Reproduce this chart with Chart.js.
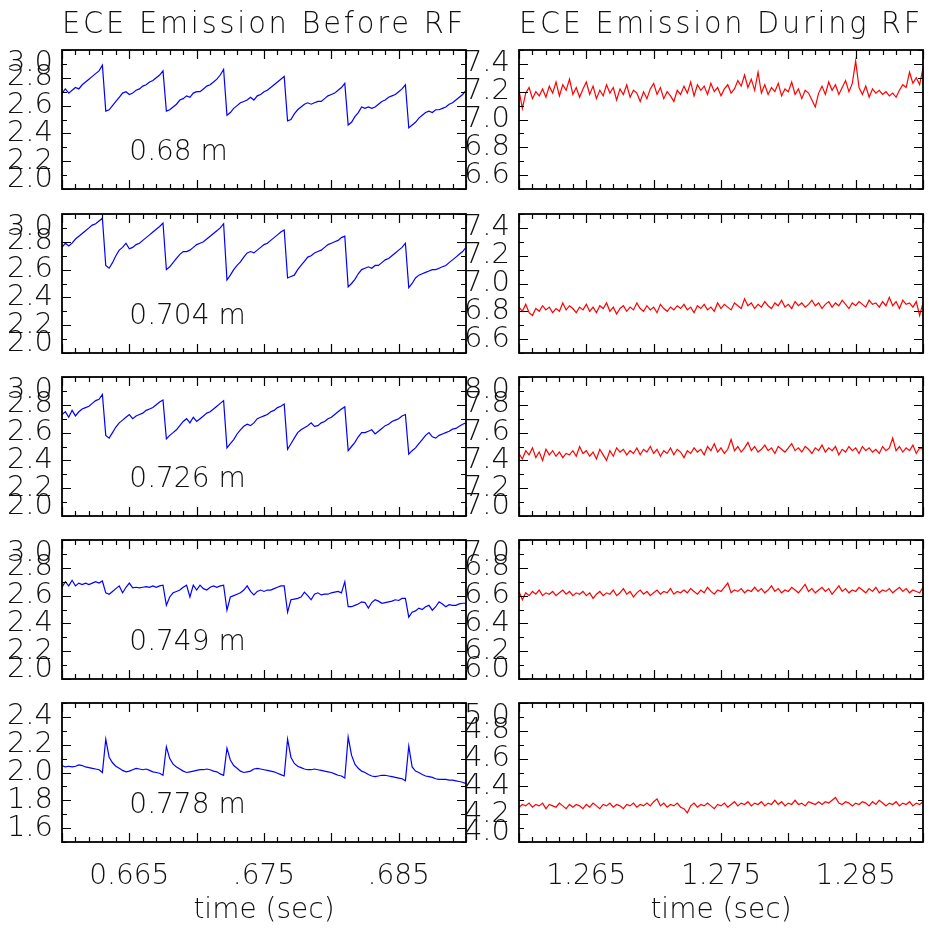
<!DOCTYPE html>
<html>
<head>
<meta charset="utf-8">
<script src="https://cdn.jsdelivr.net/npm/chart.js@4.4.1/dist/chart.umd.min.js"></script>
<style>
  html, body { margin: 0; padding: 0; background: #fff; }
  #wrap { position: relative; width: 931px; height: 928px; overflow: hidden; }
  #wrap canvas { position: absolute; }
</style>
</head>
<body>
<div id="wrap"></div>
<script>
// ---- data ----
const sampleStep = 0.00025;          // s between samples
const tStartBefore = 0.66;
const tStartDuring = 1.26;
const radii = ['0.68 m', '0.704 m', '0.726 m', '0.749 m', '0.778 m'];

// before RF (blue), 121 samples from 0.660 to 0.690 s
const before068 = [2.69,2.72,2.69,2.71,2.73,2.72,2.75,2.77,2.79,2.81,2.83,2.85,2.89,
  2.56,2.57,2.60,2.63,2.66,2.69,2.70,2.68,2.69,2.71,2.72,2.74,2.75,2.77,2.78,2.80,2.82,2.85,
  2.56,2.57,2.59,2.61,2.64,2.65,2.67,2.66,2.69,2.70,2.70,2.72,2.74,2.75,2.77,2.79,2.82,2.86,
  2.53,2.55,2.58,2.60,2.62,2.63,2.64,2.66,2.64,2.67,2.68,2.70,2.71,2.73,2.75,2.77,2.79,2.81,
  2.49,2.50,2.54,2.57,2.59,2.61,2.62,2.61,2.62,2.63,2.63,2.65,2.67,2.68,2.69,2.71,2.73,2.76,
  2.46,2.48,2.52,2.55,2.59,2.58,2.59,2.58,2.59,2.61,2.63,2.64,2.66,2.67,2.68,2.70,2.72,2.75,
  2.44,2.46,2.48,2.51,2.53,2.55,2.56,2.55,2.57,2.57,2.58,2.59,2.61,2.62,2.64,2.66,2.68,2.71];
const before0704 = [2.76,2.79,2.77,2.79,2.82,2.84,2.86,2.88,2.90,2.92,2.93,2.95,2.97,
  2.63,2.61,2.65,2.70,2.74,2.76,2.79,2.75,2.76,2.78,2.79,2.81,2.83,2.85,2.87,2.89,2.91,2.935,
  2.60,2.62,2.65,2.68,2.71,2.73,2.73,2.74,2.76,2.78,2.79,2.80,2.82,2.84,2.86,2.88,2.90,2.93,
  2.525,2.56,2.60,2.63,2.655,2.69,2.72,2.73,2.72,2.74,2.76,2.78,2.79,2.81,2.83,2.85,2.87,2.885,
  2.54,2.55,2.56,2.60,2.63,2.66,2.69,2.70,2.72,2.73,2.74,2.76,2.78,2.79,2.80,2.81,2.83,2.84,
  2.475,2.50,2.53,2.57,2.60,2.61,2.62,2.61,2.63,2.63,2.65,2.67,2.68,2.70,2.72,2.74,2.76,2.79,
  2.47,2.50,2.54,2.56,2.57,2.58,2.59,2.60,2.60,2.61,2.62,2.63,2.65,2.67,2.69,2.71,2.73,2.76];
const before0726 = [2.73,2.75,2.71,2.76,2.72,2.75,2.77,2.78,2.79,2.81,2.83,2.84,2.875,
  2.58,2.56,2.60,2.64,2.67,2.69,2.71,2.73,2.70,2.72,2.73,2.74,2.76,2.77,2.78,2.80,2.82,2.835,
  2.555,2.58,2.60,2.62,2.65,2.68,2.70,2.67,2.71,2.68,2.70,2.72,2.74,2.75,2.77,2.79,2.81,2.83,
  2.49,2.52,2.55,2.59,2.62,2.645,2.66,2.65,2.67,2.70,2.71,2.72,2.73,2.75,2.76,2.78,2.79,2.805,
  2.48,2.52,2.56,2.60,2.62,2.635,2.65,2.67,2.645,2.65,2.67,2.68,2.70,2.71,2.73,2.75,2.77,2.785,
  2.47,2.50,2.53,2.57,2.60,2.60,2.61,2.62,2.59,2.61,2.63,2.65,2.66,2.68,2.69,2.70,2.72,2.73,
  2.445,2.47,2.49,2.52,2.55,2.58,2.60,2.57,2.56,2.58,2.59,2.60,2.61,2.625,2.63,2.645,2.66,2.67];
const before0749 = [2.66,2.70,2.67,2.71,2.67,2.69,2.68,2.69,2.68,2.69,2.70,2.69,2.705,
  2.62,2.61,2.63,2.65,2.67,2.62,2.66,2.69,2.655,2.66,2.655,2.66,2.665,2.66,2.67,2.66,2.67,2.675,
  2.53,2.59,2.62,2.63,2.64,2.66,2.675,2.59,2.675,2.64,2.675,2.65,2.64,2.66,2.67,2.66,2.67,2.675,
  2.495,2.59,2.60,2.61,2.62,2.64,2.67,2.63,2.605,2.63,2.64,2.63,2.64,2.64,2.65,2.66,2.67,2.67,
  2.48,2.57,2.575,2.58,2.59,2.625,2.60,2.57,2.61,2.62,2.605,2.61,2.61,2.62,2.625,2.63,2.62,2.70,
  2.52,2.52,2.53,2.54,2.555,2.55,2.51,2.55,2.57,2.56,2.545,2.55,2.555,2.56,2.57,2.565,2.58,2.58,
  2.445,2.48,2.49,2.51,2.50,2.52,2.53,2.495,2.52,2.555,2.54,2.52,2.535,2.53,2.53,2.54,2.545,2.545];
const before0778 = [2.05,2.04,2.045,2.04,2.045,2.055,2.05,2.04,2.035,2.03,2.025,2.02,2.00,
  2.24,2.11,2.07,2.045,2.03,2.015,2.005,2.01,2.02,2.03,2.025,2.02,2.025,2.015,2.005,2.00,1.995,1.98,
  2.185,2.10,2.06,2.04,2.025,2.01,2.00,2.005,2.01,2.015,2.02,2.02,2.025,2.02,2.01,2.005,1.99,1.98,
  2.175,2.09,2.05,2.03,2.01,2.00,2.005,2.01,2.025,2.03,2.025,2.02,2.015,2.01,2.005,1.995,1.985,1.975,
  2.24,2.11,2.065,2.045,2.035,2.025,2.02,2.02,2.025,2.02,2.015,2.01,2.005,2.00,1.99,1.98,1.975,1.96,
  2.255,2.125,2.06,2.03,2.01,2.00,1.985,1.975,1.97,1.975,1.98,1.98,1.975,1.97,1.965,1.96,1.955,1.94,
  2.19,2.04,2.01,2.00,1.985,1.975,1.97,1.965,1.955,1.95,1.95,1.95,1.945,1.945,1.94,1.935,1.93,1.92];

// during RF (red), 121 samples from 1.260 to 1.290 s
const during068 = [7.21,7.08,7.19,7.23,7.15,7.20,7.17,7.22,7.16,7.24,
  7.19,7.27,7.17,7.25,7.21,7.29,7.18,7.23,7.16,7.22,
  7.27,7.18,7.24,7.15,7.21,7.17,7.25,7.19,7.23,7.14,
  7.22,7.18,7.25,7.16,7.21,7.19,7.13,7.20,7.15,7.22,
  7.26,7.18,7.23,7.15,7.20,7.17,7.13,7.21,7.18,7.24,
  7.19,7.27,7.17,7.25,7.21,7.24,7.18,7.26,7.20,7.23,
  7.17,7.22,7.25,7.19,7.22,7.28,7.24,7.32,7.23,7.29,
  7.21,7.34,7.19,7.25,7.18,7.23,7.20,7.26,7.17,7.22,
  7.20,7.27,7.18,7.22,7.15,7.21,7.19,7.14,7.09,7.19,
  7.24,7.18,7.27,7.21,7.25,7.18,7.23,7.28,7.20,7.26,
  7.42,7.23,7.18,7.24,7.16,7.22,7.19,7.21,7.18,7.20,
  7.17,7.19,7.16,7.21,7.25,7.23,7.34,7.26,7.30,7.25,7.37];
const during0704 = [6.83,6.80,6.85,6.79,6.77,6.82,6.80,6.84,6.81,6.83,
  6.79,6.82,6.80,6.86,6.81,6.84,6.82,6.79,6.83,6.81,
  6.85,6.80,6.83,6.79,6.84,6.82,6.86,6.80,6.83,6.78,
  6.82,6.84,6.80,6.83,6.81,6.86,6.82,6.80,6.84,6.81,
  6.83,6.79,6.85,6.82,6.80,6.83,6.81,6.84,6.82,6.85,
  6.81,6.83,6.79,6.84,6.82,6.85,6.81,6.83,6.80,6.86,
  6.82,6.85,6.83,6.81,6.86,6.84,6.82,6.89,6.84,6.86,
  6.82,6.85,6.83,6.87,6.84,6.82,6.86,6.84,6.88,6.83,
  6.85,6.82,6.87,6.84,6.86,6.83,6.85,6.88,6.84,6.86,
  6.82,6.85,6.87,6.83,6.86,6.84,6.88,6.85,6.82,6.86,
  6.84,6.87,6.85,6.83,6.88,6.85,6.86,6.83,6.87,6.84,
  6.90,6.84,6.87,6.82,6.88,6.85,6.86,6.83,6.87,6.77,6.86];
const during0726 = [7.45,7.41,7.47,7.44,7.49,7.42,7.46,7.40,7.48,7.44,
  7.47,7.43,7.46,7.42,7.45,7.44,7.47,7.43,7.50,7.45,
  7.47,7.43,7.46,7.41,7.48,7.44,7.40,7.47,7.43,7.49,
  7.46,7.48,7.44,7.47,7.45,7.49,7.44,7.48,7.46,7.50,
  7.45,7.48,7.43,7.47,7.45,7.49,7.44,7.48,7.46,7.42,
  7.47,7.45,7.49,7.46,7.48,7.44,7.50,7.47,7.52,7.46,
  7.49,7.45,7.48,7.55,7.47,7.50,7.46,7.49,7.53,7.47,
  7.50,7.46,7.48,7.51,7.47,7.49,7.45,7.50,7.48,7.46,
  7.49,7.52,7.47,7.49,7.46,7.50,7.48,7.45,7.49,7.47,
  7.51,7.46,7.49,7.47,7.50,7.44,7.48,7.46,7.50,7.47,
  7.49,7.45,7.50,7.47,7.49,7.46,7.48,7.45,7.50,7.47,
  7.49,7.56,7.47,7.50,7.46,7.49,7.47,7.51,7.45,7.49,7.48];
const during0749 = [6.63,6.57,6.62,6.60,6.63,6.61,6.64,6.60,6.62,6.61,
  6.63,6.60,6.62,6.64,6.61,6.63,6.60,6.62,6.61,6.63,
  6.60,6.62,6.58,6.61,6.63,6.60,6.62,6.61,6.64,6.60,
  6.62,6.65,6.61,6.63,6.59,6.62,6.64,6.61,6.63,6.60,
  6.62,6.64,6.61,6.63,6.62,6.65,6.61,6.63,6.62,6.64,
  6.62,6.65,6.63,6.61,6.64,6.62,6.66,6.63,6.61,6.64,
  6.63,6.66,6.69,6.62,6.64,6.63,6.65,6.62,6.64,6.63,
  6.66,6.63,6.65,6.62,6.64,6.67,6.63,6.65,6.62,6.64,
  6.63,6.66,6.64,6.62,6.65,6.68,6.63,6.65,6.62,6.64,
  6.66,6.63,6.65,6.61,6.64,6.67,6.63,6.65,6.62,6.64,
  6.63,6.66,6.64,6.62,6.65,6.63,6.66,6.62,6.64,6.63,
  6.65,6.62,6.64,6.66,6.63,6.65,6.62,6.64,6.63,6.62,6.66];
const during0778 = [4.25,4.27,4.26,4.28,4.25,4.27,4.26,4.28,4.24,4.27,
  4.26,4.25,4.28,4.26,4.24,4.27,4.25,4.27,4.26,4.24,
  4.27,4.25,4.28,4.26,4.24,4.27,4.26,4.28,4.25,4.27,
  4.26,4.24,4.27,4.26,4.28,4.25,4.27,4.26,4.28,4.26,
  4.29,4.31,4.26,4.28,4.25,4.27,4.26,4.28,4.25,4.24,
  4.21,4.26,4.28,4.25,4.27,4.26,4.28,4.26,4.24,4.27,
  4.26,4.28,4.25,4.27,4.29,4.26,4.28,4.27,4.29,4.26,
  4.28,4.27,4.29,4.26,4.28,4.27,4.30,4.27,4.29,4.26,
  4.28,4.27,4.30,4.27,4.28,4.26,4.29,4.28,4.27,4.29,
  4.27,4.29,4.28,4.30,4.32,4.28,4.27,4.29,4.28,4.26,
  4.28,4.27,4.29,4.28,4.26,4.29,4.27,4.30,4.28,4.26,
  4.28,4.27,4.29,4.26,4.28,4.27,4.29,4.26,4.28,4.27,4.29];

const beforeSeries = [before068, before0704, before0726, before0749, before0778];
const duringSeries = [during068, during0704, during0726, during0749, during0778];

// axis ranges and tick labels
const yMinBefore = [2.0, 2.0, 2.0, 2.0, 1.5];
const yMaxBefore = [3.0, 3.0, 3.0, 3.0, 2.5];
const yMinDuring = [6.5, 6.5, 7.0, 6.0, 4.0];
const yMaxDuring = [7.5, 7.5, 8.0, 7.0, 5.0];
const xTickValsBefore = [0.665, 0.675, 0.685];
const xTickLabelsBefore = ['0.665', '.675', '.685'];
const xTickValsDuring = [1.265, 1.275, 1.285];
const xTickLabelsDuring = ['1.265', '1.275', '1.285'];
const titles = ['ECE Emission Before RF', 'ECE Emission During RF'];

// ---- layout ----
const FONT = 'DejaVu Sans';
const panelTops = [50, 214, 377, 540, 703];
const panelH = 139;

// IDL-style frame: inward ticks on all four sides, labels kept inside the box height
const idlFrame = {
  id: 'idlFrame',
  beforeDraw(chart, args, o) {
    chart.ctx.letterSpacing = o.titleRow ? '3px' : '0px';
  },
  afterDraw(chart, args, o) {
    const ctx = chart.ctx, a = chart.chartArea;
    const xs = chart.scales.x, ys = chart.scales.y;
    ctx.save();
    ctx.letterSpacing = '0px';
    ctx.strokeStyle = '#000';
    ctx.lineWidth = 1.2;
    ctx.beginPath();
    const nx = Math.round((xs.max - xs.min) / 0.001);
    for (let k = 0; k <= nx; k++) {
      const px = Math.round(xs.getPixelForValue(xs.min + k * 0.001)) + 0.5;
      const len = k % 5 === 0 ? 9 : 5;
      ctx.moveTo(px, a.bottom); ctx.lineTo(px, a.bottom - len);
      ctx.moveTo(px, a.top); ctx.lineTo(px, a.top + len);
    }
    const ny = Math.round((ys.max - ys.min) / 0.1);
    for (let k = 0; k <= ny; k++) {
      const v = ys.min + k * 0.1;
      const py = Math.round(ys.getPixelForValue(v)) + 0.5;
      const major = Math.round(v * 10) % 2 === 0;
      const len = major ? 9 : 5;
      ctx.moveTo(a.left, py); ctx.lineTo(a.left + len, py);
      ctx.moveTo(a.right, py); ctx.lineTo(a.right - len, py);
    }
    ctx.stroke();
    ctx.lineWidth = 1.8;
    ctx.strokeRect(a.left, a.top, a.right - a.left, a.bottom - a.top);

    // y tick labels every 0.2
    ctx.fillStyle = '#111';
    ctx.font = '200 29px "' + FONT + '"';
    ctx.textAlign = 'right';
    ctx.textBaseline = 'middle';
    const first = Math.ceil(ys.min / 0.2 - 1e-6);
    const last = Math.floor(ys.max / 0.2 + 1e-6);
    for (let k = first; k <= last; k++) {
      const v = k * 0.2;
      let py = ys.getPixelForValue(v);
      py = Math.min(Math.max(py, a.top + 13), a.bottom - 10);
      ctx.fillText(v.toFixed(1), a.left - 9, py);
    }

    // radius annotation
    if (o.note) {
      ctx.font = '200 28px "' + FONT + '"';
      ctx.textAlign = 'left';
      ctx.fillText(o.note, xs.getPixelForValue(o.noteX), ys.getPixelForValue(o.noteY));
    }
    ctx.restore();
  }
};

function makePanel(col, row) {
  const isLeft = col === 0;
  const values = isLeft ? beforeSeries[row] : duringSeries[row];
  const t0 = isLeft ? tStartBefore : tStartDuring;
  const times = values.map((_, i) => t0 + i * sampleStep);
  const yMin = isLeft ? yMinBefore[row] : yMinDuring[row];
  const yMax = isLeft ? yMaxBefore[row] : yMaxDuring[row];
  const tickVals = isLeft ? xTickValsBefore : xTickValsDuring;
  const tickLabels = isLeft ? xTickLabelsBefore : xTickLabelsDuring;
  const bottomRow = row === 4;
  const topRow = row === 0;

  const canvasLeft = isLeft ? 0 : 466;
  const canvasW = isLeft ? 470 : 465;
  const axisW = isLeft ? 62 : 53;
  const padRight = isLeft ? 4 : 8;
  const top = panelTops[row];
  const canvasTop = topRow ? 0 : top - 10;
  const canvasBottom = bottomRow ? 928 : top + panelH + 11;

  const cv = document.createElement('canvas');
  cv.style.left = canvasLeft + 'px';
  cv.style.top = canvasTop + 'px';
  cv.style.width = canvasW + 'px';
  cv.style.height = (canvasBottom - canvasTop) + 'px';
  cv.width = canvasW;
  cv.height = canvasBottom - canvasTop;
  document.getElementById('wrap').appendChild(cv);

  new Chart(cv, {
    type: 'line',
    data: {
      datasets: [{
        data: times.map((t, i) => ({ x: t, y: values[i] })),
        borderColor: isLeft ? '#0000ff' : '#ff0000',
        borderWidth: 1.2,
        pointRadius: 0,
        tension: 0,
        fill: false
      }]
    },
    options: {
      responsive: false,
      animation: false,
      events: [],
      layout: {
        padding: {
          left: 0,
          right: padRight,
          top: topRow ? 0 : 10,
          bottom: bottomRow ? 0 : 11
        }
      },
      plugins: {
        legend: { display: false },
        tooltip: { enabled: false },
        title: {
          display: topRow,
          text: titles[col],
          fullSize: false,
          color: '#111',
          font: { family: FONT, size: 31, weight: '200' },
          padding: { top: 6, bottom: 6.8 }
        },
        idlFrame: {
          titleRow: topRow,
          note: isLeft ? radii[row] : null,
          noteX: 0.665,
          noteY: yMin + 0.26
        }
      },
      scales: {
        x: {
          type: 'linear',
          min: t0,
          max: t0 + 0.03,
          display: bottomRow,
          grid: { display: false, drawTicks: false },
          border: { display: false },
          afterBuildTicks: (axis) => { axis.ticks = tickVals.map(v => ({ value: v })); },
          afterFit: (axis) => { if (bottomRow) axis.height = 928 - (top + panelH); },
          ticks: {
            autoSkip: false,
            maxRotation: 0,
            padding: 18,
            color: '#111',
            font: { family: FONT, size: 28, weight: '200' },
            callback: (v) => {
              const k = tickVals.findIndex(t => Math.abs(t - v) < 1e-6);
              return k >= 0 ? tickLabels[k] : '';
            }
          },
          title: {
            display: bottomRow,
            text: 'time (sec)',
            color: '#111',
            font: { family: FONT, size: 28, weight: '200' },
            padding: { top: 0, bottom: 0 }
          }
        },
        y: {
          min: yMin,
          max: yMax,
          grid: { display: false, drawTicks: false },
          border: { display: false },
          ticks: { display: false },
          afterFit: (axis) => { axis.width = axisW; }
        }
      }
    },
    plugins: [idlFrame]
  });
}

for (let row = 0; row < 5; row++) {
  makePanel(0, row);
  makePanel(1, row);
}
</script>
</body>
</html>
